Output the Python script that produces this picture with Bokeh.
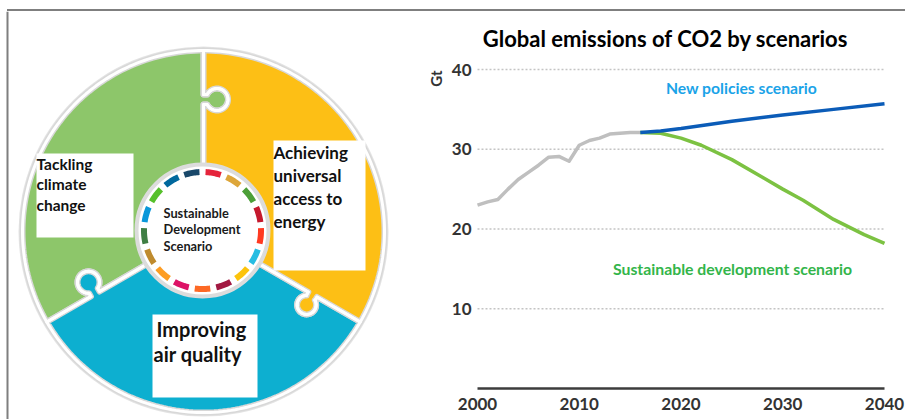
import numpy as np
from bokeh.plotting import figure
from bokeh.models import Range1d, Label, FixedTicker, Div
from bokeh.layouts import row, column
from bokeh.embed import file_html
from bokeh.resources import INLINE
from bokeh.core.properties import value

# ---------------- data ----------------
years_hist = [2000, 2001, 2002, 2003, 2004, 2005, 2006, 2007, 2008,
              2009, 2010, 2011, 2012, 2013, 2014, 2015, 2016]
co2_hist = [23.0, 23.4, 23.7, 25.0, 26.2, 27.1, 28.0, 29.0, 29.1,
            28.5, 30.5, 31.1, 31.4, 31.9, 32.0, 32.1, 32.1]
years_nps = [2016, 2018, 2020, 2025, 2030, 2035, 2040]
co2_nps = [32.1, 32.3, 32.6, 33.5, 34.3, 35.0, 35.7]
years_sds = [2016, 2018, 2020, 2022, 2025, 2028, 2030, 2032, 2035, 2038, 2040]
co2_sds = [32.1, 32.0, 31.4, 30.5, 28.7, 26.5, 25.0, 23.6, 21.2, 19.3, 18.2]
x_ticks = [2000, 2010, 2020, 2030, 2040]
y_ticks = [10, 20, 30, 40]
chart_title = "Global emissions of CO2 by scenarios"
unit_label = "Gt"
scenario_names = ["New policies scenario", "Sustainable development scenario"]

piece_texts = [["Tackling", "climate", "change"],
               ["Achieving", "universal", "access to", "energy"],
               ["Improving", "air quality"]]
centre_text = ["Sustainable", "Development", "Scenario"]
sdg_colors = ["#E5243B", "#DDA63A", "#4C9F38", "#C5192D", "#FF3A21", "#26BDE2",
              "#FCC30B", "#A21942", "#FD6925", "#DD1367", "#FD9D24", "#BF8B2E",
              "#3F7E44", "#0A97D9", "#56C02B", "#00689D", "#19486A"]

FONT = "Lato"
TOP = 11      # canvas top (below the frame line)
BOTTOM = 419

# ---------------- left: puzzle diagram ----------------
LW = 445
L = figure(width=LW, height=BOTTOM - TOP, x_range=Range1d(0, LW), y_range=Range1d(BOTTOM, TOP),
           output_backend="svg", toolbar_location=None,
           x_axis_type=None, y_axis_type=None, min_border=0,
           min_border_left=0, min_border_right=0, min_border_top=0, min_border_bottom=0)
L.outline_line_color = None
L.background_fill_color = "white"
L.border_fill_color = "white"

cx, cy = 203.0, 231.0
R_ring = 185.0
r_col = 181.0
r_in0 = 50.0


def pt(theta_deg, r):
    t = np.radians(theta_deg)
    return cx + r * np.cos(t), cy - r * np.sin(t)


def arc(t0, t1, r, n=90):
    ts = np.linspace(t0, t1, n)
    xs, ys = pt(ts, r)
    return list(xs), list(ys)


def boundary(theta, k, rk):
    t = np.radians(theta)
    eu = np.array([np.cos(t), -np.sin(t)])
    ev = np.array([-eu[1], eu[0]])
    w = 5.0
    vc = rk + 2.5
    h0 = vc - np.sqrt(rk ** 2 - w ** 2)
    uv = [(r_in0, 0), (k - w, 0), (k - w, h0)]
    for a in np.linspace(np.radians(240), np.radians(-60), 60):
        uv.append((k + rk * np.cos(a), vc + rk * np.sin(a)))
    uv += [(k + w, h0), (k + w, 0), (r_col, 0)]
    xs = [cx + u * eu[0] + v * ev[0] for u, v in uv]
    ys = [cy + u * eu[1] + v * ev[1] for u, v in uv]
    return xs, ys


b_top = boundary(90, 132, 11)
b_ll = boundary(210, 125, 11)
b_lr = boundary(-30, 126, 9.5)


def piece(t0, t1, b_start, b_end):
    ox, oy = arc(t0, t1, r_col)
    ix, iy = arc(t1, t0, r_in0)
    xs = ox + b_end[0][::-1] + ix + b_start[0]
    ys = oy + b_end[1][::-1] + iy + b_start[1]
    return xs, ys


g = piece(90, 210, b_top, b_ll)
b = piece(210, 330, b_ll, b_lr)
y = piece(330, 450, b_lr, b_top)
piece_colors = ["#8DC66A", "#0DAFD0", "#FDBF15"]

L.circle(x=[cx], y=[cy], radius=R_ring, fill_color="#E4E4E4", line_color=None)
L.patches(xs=[g[0], b[0], y[0]], ys=[g[1], b[1], y[1]], fill_color=piece_colors,
          line_color="#D8D8D8", line_width=6, line_join="round")
L.patches(xs=[g[0], b[0], y[0]], ys=[g[1], b[1], y[1]], fill_color=None,
          line_color="white", line_width=3, line_join="round")

# inner white disc with grey ring
L.circle(x=[cx - 1], y=[cy - 1], radius=66, fill_color="white", line_color="#DCDCDC", line_width=4)

# SDG dashes
step = 360.0 / 17
dash_xs, dash_ys = [], []
for i in range(17):
    c = 90 - (step / 2 + i * step)
    ax, ay = arc(c - 7.6, c + 7.6, 61.5, 12)
    bx, by = arc(c + 7.6, c - 7.6, 55.5, 12)
    dash_xs.append([v - 1 for v in ax + bx])
    dash_ys.append([v - 1 for v in ay + by])
L.patches(xs=dash_xs, ys=dash_ys, fill_color=sdg_colors, line_color=None)

# centre text
L.text(x=[163] * 3, y=[212, 228.5, 245], text=centre_text, text_font=value(FONT),
       text_font_style="bold", text_font_size="12.8px", text_color="#1a1a1a",
       text_align="left", text_baseline="middle")

# white boxes
L.quad(left=[36, 273, 152], right=[133, 365, 257], top=[153, 140, 314],
       bottom=[237, 270, 397], fill_color="white", line_color=None)

L.text(x=[36] * 3, y=[163, 183.5, 204], text=piece_texts[0], text_font=value(FONT),
       text_font_style="bold", text_font_size="15.5px", text_color="#111111",
       text_align="left", text_baseline="middle")
L.text(x=[273] * 4, y=[152, 175, 198, 221], text=piece_texts[1], text_font=value(FONT),
       text_font_style="bold", text_font_size="17px", text_color="#111111",
       text_align="left", text_baseline="middle")
L.text(x=[156, 153], y=[328, 353], text=piece_texts[2], text_font=value(FONT),
       text_font_style="bold", text_font_size="20px", text_color="#111111",
       text_align="left", text_baseline="middle")

# unit label of the chart (sits left of the chart's axis)
L.text(x=[435], y=[78], text=[unit_label], angle=np.pi / 2, text_font=value(FONT),
       text_font_style="bold", text_font_size="15px", text_color="#333333",
       text_align="center", text_baseline="middle")

# left frame line
L.segment(x0=[7], y0=[TOP], x1=[7], y1=[BOTTOM], line_color="#7F7F7F", line_width=2)

# ---------------- right: line chart ----------------
px_per_gt = (388 - 69) / 40.0
px_per_year = (884 - 477) / 40.0
RW = 905 - LW
y_lo = -(BOTTOM - 388) / px_per_gt
y_hi = 40 + (69 - TOP) / px_per_gt
x_lo = x_ticks[0] - (477 - LW) / px_per_year
x_hi = x_ticks[-1] + (905 - 884) / px_per_year
P = figure(width=RW, height=BOTTOM - TOP, x_range=Range1d(x_lo, x_hi),
           y_range=Range1d(y_lo, y_hi),
           output_backend="svg", toolbar_location=None,
           min_border_left=0, min_border_right=0,
           min_border_top=0, min_border_bottom=0)
P.outline_line_color = None
P.grid.visible = False

P.xaxis.ticker = FixedTicker(ticks=x_ticks)
P.yaxis.ticker = FixedTicker(ticks=y_ticks)
for ax in (P.xaxis, P.yaxis):
    ax.major_tick_out = 0
    ax.major_tick_in = 0
    ax.minor_tick_out = 0
    ax.minor_tick_in = 0
    ax.major_label_text_font = FONT
    ax.major_label_text_font_style = "bold"
    ax.major_label_text_font_size = "17px"
    ax.major_label_text_color = "#333333"
P.yaxis.fixed_location = x_ticks[0]
P.yaxis.axis_line_color = None
P.yaxis.major_label_standoff = 6
P.xaxis.fixed_location = 0
P.xaxis.bounds = (x_ticks[0], x_ticks[-1])
P.xaxis.axis_line_color = "#3C3C3C"
P.xaxis.axis_line_width = 2.5
P.xaxis.major_label_standoff = 9

# dotted horizontal gridlines spanning the data period
P.segment(x0=[x_ticks[0]] * len(y_ticks), y0=y_ticks, x1=[x_ticks[-1]] * len(y_ticks),
          y1=y_ticks, line_color="#C4C4C4", line_dash="2 2", line_width=1.5)

P.line(years_hist, co2_hist, line_color="#BFBFBF", line_width=3.5, line_join="round")
P.line(years_sds, co2_sds, line_color="#7CC242", line_width=3.5, line_join="round")
P.line(years_nps, co2_nps, line_color="#0B5CB8", line_width=3.5, line_join="round")

P.text(x=[2025.95], y=[37.62], text=[scenario_names[0]], text_font=value(FONT),
       text_font_style="bold", text_font_size="15.7px", text_color="#1AA3E8",
       text_align="center", text_baseline="middle")
P.text(x=[2025.06], y=[15.05], text=[scenario_names[1]], text_font=value(FONT),
       text_font_style="bold", text_font_size="15.8px", text_color="#33B54A",
       text_align="center", text_baseline="middle")

P.add_layout(Label(x=2018.48, y=43.89, text=chart_title, text_align="center",
                   text_baseline="middle", text_font=FONT, text_font_style="bold",
                   text_font_size="22px", text_color="#000000"))

top_line = Div(text="", width=905 - 7, height=2, margin=(TOP - 2, 0, 0, 7),
               styles={"background-color": "#7F7F7F"})
layout = column(top_line, row(L, P, spacing=0), spacing=0)

open("out.html", "w").write(file_html(layout, INLINE))
